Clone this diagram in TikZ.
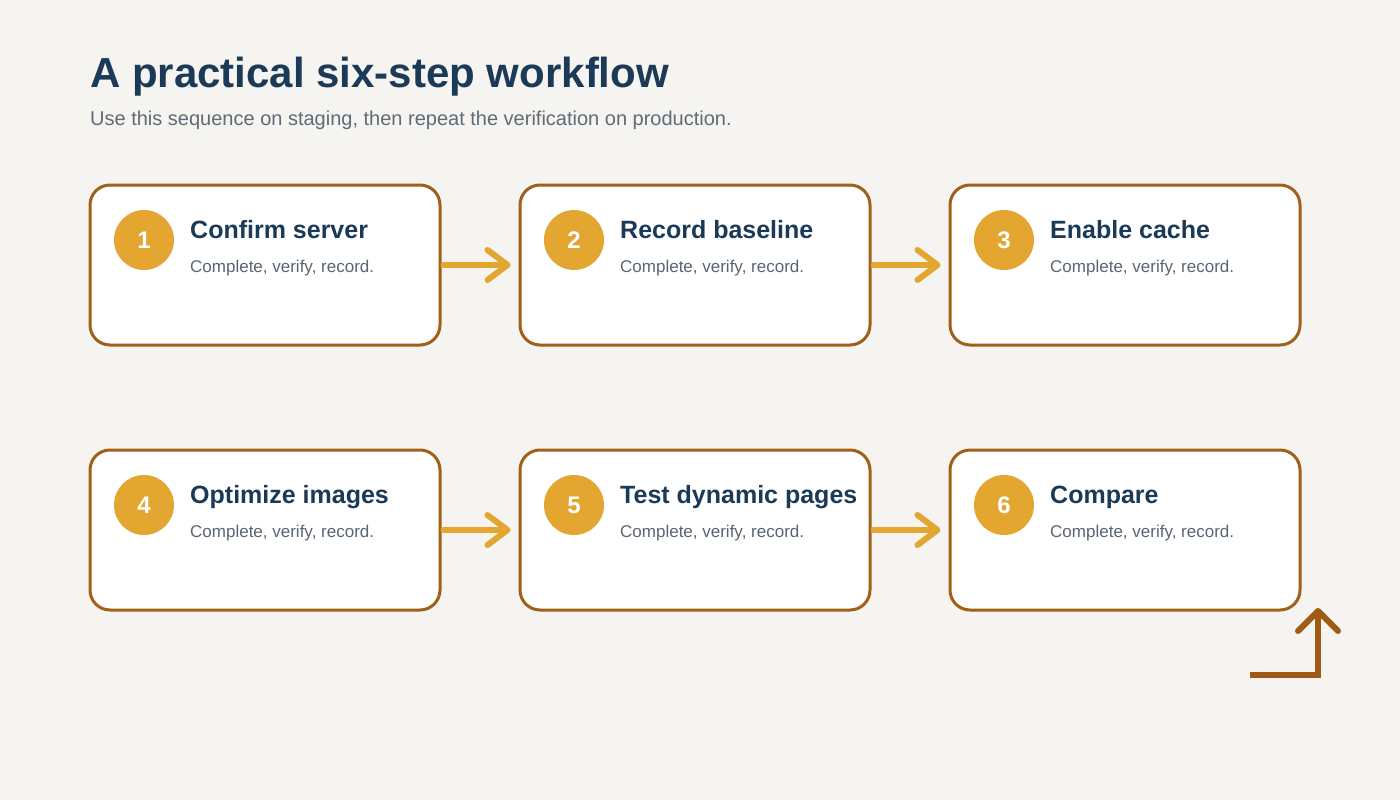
\documentclass[tikz,border=0pt]{standalone}
\usepackage{fontspec}
\setmainfont{Liberation Sans}
\usetikzlibrary{calc,arrows.meta}
\definecolor{bg}{HTML}{F5F4F0}
\definecolor{boxline}{HTML}{A0601A}
\definecolor{gold}{HTML}{E3A631}
\definecolor{navy}{HTML}{1B3A57}
\definecolor{subgray}{HTML}{5F6B77}
\definecolor{descgray}{HTML}{5B6570}
\definecolor{bentbrown}{HTML}{A05A14}
\tikzset{
  stepbox/.style={draw=boxline, fill=white, line width=3pt, rounded corners=20pt,
    minimum width=350pt, minimum height=160pt, inner sep=0pt},
  numdot/.style={circle, fill=gold, minimum size=60pt, inner sep=0pt,
    text=white, font=\fontsize{24}{28}\selectfont\bfseries},
  steptitle/.style={anchor=base west, inner sep=0pt, text=navy,
    font=\fontsize{25}{30}\selectfont\bfseries},
  stepdesc/.style={anchor=base west, inner sep=0pt, text=descgray,
    font=\fontsize{17}{20}\selectfont},
  flow/.style={draw=gold, line width=6pt, line cap=round,
    -{Straight Barb[length=20pt, width=30pt, line cap=round, line join=round]},
    shorten <=2pt, shorten >=8pt},
}
\begin{document}
\begin{tikzpicture}[x=1pt,y=-1pt]
\fill[bg] (0,0) rectangle (1400,800);
\useasboundingbox (0,0) rectangle (1400,800);

\node[anchor=base west, inner sep=0pt, text=navy, font=\fontsize{42}{50}\selectfont\bfseries]
  (title) at (90,87) {A practical six-step workflow};
\node[anchor=base west, inner sep=0pt, text=subgray, font=\fontsize{20}{24}\selectfont]
  (subtitle) at (90,125) {Use this sequence on staging, then repeat the verification on production.};

\foreach \i/\x/\y/\t in {1/265/265/Confirm server, 2/695/265/Record baseline, 3/1125/265/Enable cache,
                         4/265/530/Optimize images, 5/695/530/Test dynamic pages, 6/1125/530/Compare}{
  \node[stepbox] (b\i) at (\x,\y) {};
  \node[numdot] (n\i) at ($(b\i.north west)+(55.5,56.5)$) {\i};
  \node[steptitle] (t\i) at ($(b\i.north west)+(101.5,54.5)$) {\t};
  \node[stepdesc] (d\i) at ($(b\i.north west)+(101.5,89)$) {Complete, verify, record.};
}

\draw[flow] (b1.east) -- (b2.west);
\draw[flow] (b2.east) -- (b3.west);
\draw[flow] (b4.east) -- (b5.west);
\draw[flow] (b5.east) -- (b6.west);

\coordinate (bentstart) at ($(b6.south east)+(-51.5,63.5)$);
\coordinate (bentcorner) at ($(b6.south east)+(16.5,63.5)$);
\coordinate (benttip) at ($(b6.south east)+(16.5,-3.5)$);
\draw[draw=bentbrown, line width=6pt, line join=miter,
  -{Straight Barb[length=20pt, width=40pt, line cap=round, line join=round]}]
  (bentstart) -- (bentcorner) -- (benttip);
\end{tikzpicture}
\end{document}
